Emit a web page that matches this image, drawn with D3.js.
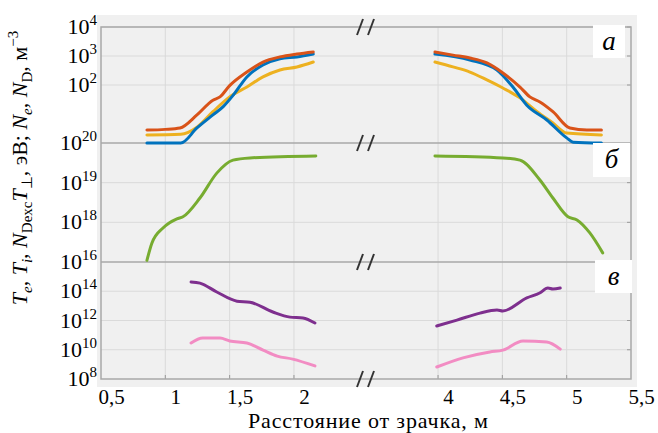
<!DOCTYPE html>
<html>
<head>
<meta charset="utf-8">
<script src="https://cdn.jsdelivr.net/npm/d3@7"></script>
<style>
  body { margin: 0; background: #fff; }
  svg text { font-family: "Liberation Serif", "Times New Roman", serif; }
</style>
</head>
<body>
<div id="chart"></div>
<script>
// x ticks (m)
const xTicksLeft = [0.5, 1, 1.5, 2];
const xTicksRight = [4, 4.5, 5, 5.5];

// y ticks per panel: [value, exponent label]
const topTicks = [[1e4, "4"], [1e3, "3"], [1e2, "2"]];
const midTicks = [[1e20, "20"], [1e19, "19"], [1e18, "18"]];
const botTicks = [[1e16, "16"], [1e14, "14"], [1e12, "12"], [1e10, "10"], [1e8, "8"]];

// panel (a): temperatures, eV  [x, value]
const redLeft = [[0.857, 2.8], [1.0, 2.95], [1.114, 3.3], [1.246, 9.3], [1.37, 30], [1.425, 39], [1.5, 95], [1.634, 280], [1.759, 620], [1.891, 930], [2.023, 1170], [2.15, 1380]];
const blueLeft = [[0.857, 1.0], [1.12, 1.0], [1.246, 3.3], [1.37, 9.3], [1.45, 18], [1.53, 46], [1.634, 190], [1.759, 490], [1.891, 800], [2.023, 930], [2.15, 1170]];
const yellowLeft = [[0.857, 1.9], [1.12, 2.0], [1.246, 3.5], [1.37, 12], [1.5, 39], [1.634, 85], [1.759, 190], [1.891, 330], [2.023, 420], [2.15, 620]];
const redRight = [[3.976, 1380], [4.116, 1070], [4.248, 850], [4.38, 575], [4.504, 260], [4.637, 85], [4.714, 39], [4.792, 26], [4.893, 12], [5.025, 3.3], [5.157, 2.8], [5.27, 2.8]];
const blueRight = [[3.976, 1170], [4.248, 730], [4.458, 330], [4.582, 85], [4.69, 20], [4.846, 6.2], [5.0, 1.5], [5.05, 1.07], [5.27, 1.0]];
const yellowRight = [[3.976, 620], [4.116, 420], [4.248, 280], [4.38, 150], [4.504, 79], [4.637, 36], [4.77, 12], [4.893, 4.9], [5.0, 2.2], [5.27, 1.9]];

// panel (б): density, m^-3
const greenLeft = [[0.857, 1.1e17], [0.896, 3e17], [0.982, 7.2e17], [1.09, 1.23e18], [1.137, 1.38e18], [1.269, 4.1e18], [1.40, 1.74e19], [1.526, 3.7e19], [1.658, 4.2e19], [2.17, 4.7e19]];
const greenRight = [[3.976, 4.7e19], [4.504, 4.2e19], [4.637, 3.7e19], [4.792, 1.17e19], [4.893, 4.1e18], [5.01, 1.38e18], [5.08, 1.15e18], [5.18, 5.4e17], [5.28, 1.7e17]];

// panel (в): neutrals, m^-3
const purpleLeft = [[1.2, 4.3e14], [1.269, 3.6e14], [1.40, 8.9e13], [1.557, 2.1e13], [1.658, 1.8e13], [1.836, 3.8e12], [1.969, 1.7e12], [2.07, 1.5e12], [2.163, 6.8e11]];
const pinkLeft = [[1.2, 2.9e10], [1.29, 6.3e10], [1.425, 6.3e10], [1.5, 4e10], [1.634, 2.9e10], [1.76, 9.5e9], [1.87, 3.7e9], [1.99, 2.3e9], [2.163, 7.8e8]];
const purpleRight = [[3.99, 4.2e11], [4.147, 1.07e12], [4.326, 3.2e12], [4.458, 5.2e12], [4.504, 4.5e12], [4.69, 3.5e13], [4.79, 7.6e13], [4.854, 1.66e14], [4.893, 1.41e14], [4.95, 1.66e14]];
const pinkRight = [[3.99, 6.6e8], [4.194, 2.8e9], [4.403, 7.1e9], [4.504, 9.5e9], [4.66, 4e10], [4.846, 3.4e10], [4.95, 1.1e10]];

const width = 658, height = 433;
const plotL = 101, plotR = 631, plotT = 27, plotB = 379;
const breakX = 366;
const yA = 143, yB = 262;
const serif = "Liberation Serif";

const svg = d3.select("#chart").append("svg")
  .attr("width", width).attr("height", height);

svg.append("rect").attr("width", width).attr("height", height).attr("fill", "#fff");
svg.append("rect").attr("x", 97).attr("y", 15).attr("width", 540).attr("height", 372).attr("fill", "#f0f0f0");

const xLeft = d3.scaleLinear().domain([0.5, 2.56]).range([plotL, breakX]);
const xRight = d3.scaleLinear().domain([3.44, 5.5]).range([breakX, plotR]);

const yTop = d3.scaleLog().domain([1, 1e4]).range([yA, plotT]);
const yMid = d3.scaleLog().domain([1e17, 1e20]).range([yB, yA]);
const yBot = d3.scaleLog().domain([1e8, 1e16]).range([plotB, yB]);

// grid
const grid = svg.append("g").attr("stroke", "#dadada").attr("stroke-width", 1);
const hLines = [
  ...topTicks.map(t => yTop(t[0])),
  ...midTicks.slice(1).map(t => yMid(t[0])),
  ...botTicks.slice(1, -1).map(t => yBot(t[0]))
];
hLines.forEach(y => {
  grid.append("line").attr("x1", plotL).attr("x2", plotR).attr("y1", y).attr("y2", y);
  svg.append("line").attr("x1", plotR - 4).attr("x2", plotR).attr("y1", y).attr("y2", y)
    .attr("stroke", "#999").attr("stroke-width", 1);
});
const vLines = [
  ...xTicksLeft.slice(1).map(d => xLeft(d)),
  ...xTicksRight.slice(0, -1).map(d => xRight(d))
];
vLines.forEach(x => {
  grid.append("line").attr("x1", x).attr("x2", x).attr("y1", plotT).attr("y2", plotB);
  svg.append("line").attr("x1", x).attr("x2", x).attr("y1", plotB - 4).attr("y2", plotB)
    .attr("stroke", "#999").attr("stroke-width", 1);
});

// panel separators and frame
[yA, yB].forEach(y => {
  svg.append("line").attr("x1", plotL).attr("x2", plotR).attr("y1", y).attr("y2", y)
    .attr("stroke", "#a8a8a8").attr("stroke-width", 1.5);
});
svg.append("rect").attr("x", plotL).attr("y", plotT).attr("width", plotR - plotL).attr("height", plotB - plotT)
  .attr("fill", "none").attr("stroke", "#a8a8a8").attr("stroke-width", 1.5);

// curves
function drawLine(data, xs, ys, color) {
  const line = d3.line().x(d => xs(d[0])).y(d => ys(d[1])).curve(d3.curveMonotoneX);
  svg.append("path").datum(data).attr("d", line)
    .attr("fill", "none").attr("stroke", color).attr("stroke-width", 3)
    .attr("stroke-linejoin", "round").attr("stroke-linecap", "round");
}
drawLine(yellowLeft, xLeft, yTop, "#EDB120");
drawLine(blueLeft, xLeft, yTop, "#0072BD");
drawLine(redLeft, xLeft, yTop, "#D95319");
drawLine(yellowRight, xRight, yTop, "#EDB120");
drawLine(blueRight, xRight, yTop, "#0072BD");
drawLine(redRight, xRight, yTop, "#D95319");
drawLine(greenLeft, xLeft, yMid, "#77AC30");
drawLine(greenRight, xRight, yMid, "#77AC30");
drawLine(purpleLeft, xLeft, yBot, "#7E2F8E");
drawLine(purpleRight, xRight, yBot, "#7E2F8E");
drawLine(pinkLeft, xLeft, yBot, "#F28CC3");
drawLine(pinkRight, xRight, yBot, "#F28CC3");

// break marks
[plotT, yA, yB, plotB].forEach(y => {
  [-6, 5].forEach(dx => {
    svg.append("line")
      .attr("x1", breakX + dx - 3).attr("y1", y + 8)
      .attr("x2", breakX + dx + 3).attr("y2", y - 8)
      .attr("stroke", "#333").attr("stroke-width", 2);
  });
});

// panel letters
const letters = [["а", 593, 25, 32, 33], ["б", 593, 143, 37, 34], ["в", 595, 260, 37, 33]];
letters.forEach(([t, x, y, w, h]) => {
  svg.append("rect").attr("x", x).attr("y", y).attr("width", w).attr("height", h).attr("fill", "#fff");
  svg.append("text").attr("x", x + w / 2).attr("y", y + h / 2 + 8)
    .attr("text-anchor", "middle").style("font-family", serif)
    .attr("font-size", 27).attr("font-style", "italic").text(t);
});

// y tick labels
function yLabels(ticks, ys) {
  ticks.forEach(([v, e]) => {
    const t = svg.append("text").attr("x", 97).attr("y", ys(v) + 7)
      .attr("text-anchor", "end").style("font-family", serif).attr("font-size", 22);
    t.append("tspan").text("10");
    t.append("tspan").attr("font-size", 15).attr("dy", -9).text(e);
  });
}
yLabels(topTicks, yTop);
yLabels(midTicks, yMid);
yLabels(botTicks, yBot);

// x axes
function xAxis(scale, ticks) {
  const g = svg.append("g").attr("transform", `translate(0,${plotB})`)
    .call(d3.axisBottom(scale).tickValues(ticks).tickSize(0).tickPadding(10)
      .tickFormat(d => String(d).replace(".", ",")));
  g.select(".domain").remove();
  g.selectAll("text").attr("font-size", 21).attr("fill", "#000")
    .style("font-family", serif).attr("dx", 10);
}
xAxis(xLeft, xTicksLeft);
xAxis(xRight, xTicksRight);

svg.append("text").attr("x", 248).attr("y", 428).attr("font-size", 22)
  .attr("textLength", 240).attr("lengthAdjust", "spacing")
  .style("font-family", serif).text("Расстояние от зрачка, м");

// y axis title
const yt = svg.append("text").attr("transform", "translate(27,168) rotate(-90)")
  .attr("text-anchor", "middle").style("font-family", serif).attr("font-size", 22);
const parts = [
  ["T", "i"], ["e", "sub-i"], [", ", ""], ["T", "i"], ["i", "sub-i"], [", ", ""],
  ["N", "i"], ["Dexc", "sub"], ["T", "i"], ["⊥", "sub"], [", эВ; ", ""],
  ["N", "i"], ["e", "sub-i"], [", ", ""], ["N", "i"], ["D", "sub"], [", м", ""], ["−3", "sup"]
];
let shift = 0;
parts.forEach(([s, k]) => {
  const ts = yt.append("tspan").text(s);
  let target = 0;
  if (k.startsWith("sub")) target = 5;
  if (k === "sup") target = -9;
  ts.attr("dy", target - shift);
  shift = target;
  if (k.startsWith("sub") || k === "sup") ts.attr("font-size", 15);
  if (k === "i" || k === "sub-i") ts.attr("font-style", "italic");
});
</script>
</body>
</html>
